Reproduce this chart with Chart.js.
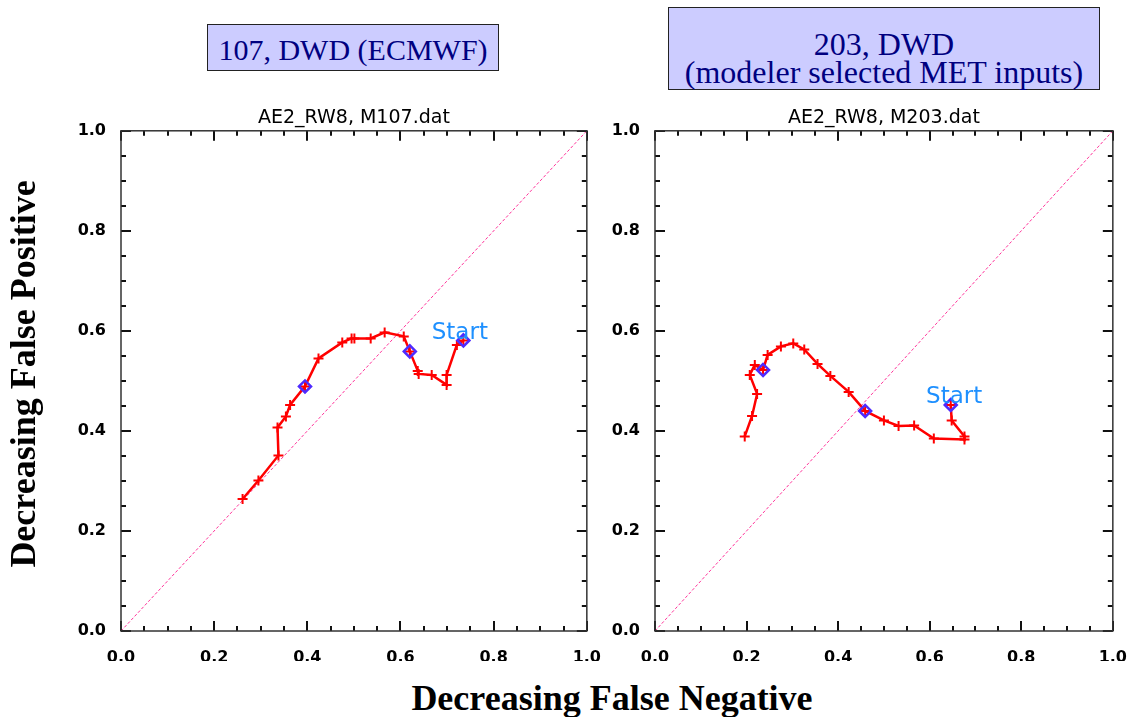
<!DOCTYPE html>
<html>
<head>
<meta charset="utf-8">
<script src="https://cdn.jsdelivr.net/npm/chart.js@4.4.0/dist/chart.umd.min.js"></script>
<style>
body { margin: 0; background: #fff; }
#page { position: relative; width: 1136px; height: 717px; overflow: hidden; background: #fff; }
canvas { position: absolute; }
.boite { position: absolute; box-sizing: border-box; border: 1px solid #222; background: #ccccff; color: #000080;
         font-family: "Liberation Serif", "Times New Roman", serif; text-align: center; white-space: nowrap; }
.titre-axe { position: absolute; font-family: "Liberation Serif", serif; font-weight: bold; font-size: 36px;
             line-height: 40px; height: 40px; width: 500px; text-align: center; color: #000; white-space: nowrap; }
</style>
</head>
<body>
<div id="page">
  <div class="boite" style="left:207px; top:24px; width:292px; height:47px; font-size:30px; line-height:45px; padding-top:2px;">107, DWD (ECMWF)</div>
  <div class="boite" style="left:668px; top:7px; width:432px; height:83px; font-size:32px; line-height:27.5px; padding-top:23px;">203, DWD<br>(modeler selected MET inputs)</div>

  <canvas id="graph-107" width="610" height="580" style="left:0px; top:95px; width:610px; height:580px;"></canvas>
  <canvas id="graph-203" width="542" height="580" style="left:594px; top:95px; width:542px; height:580px;"></canvas>

  <div class="titre-axe" style="left:-227px; top:354px; transform:rotate(-90deg);">Decreasing False Positive</div>
  <div class="titre-axe" style="left:362px; top:678px;">Decreasing False Negative</div>
</div>

<script>
// values, from "Start" to the end of each track
var m107FalseNeg = [0.735, 0.721, 0.699, 0.699, 0.667, 0.639, 0.637, 0.620, 0.607, 0.566, 0.536,
                    0.501, 0.495, 0.475, 0.424, 0.395, 0.363, 0.354, 0.336, 0.338, 0.295, 0.261];
var m107FalsePos = [0.581, 0.572, 0.512, 0.492, 0.512, 0.514, 0.520, 0.559, 0.589, 0.597, 0.585,
                    0.585, 0.585, 0.577, 0.545, 0.489, 0.452, 0.429, 0.407, 0.351, 0.301, 0.264];
var m107Marks = [0, 7, 15]; // points with a diamond

var m203FalseNeg = [0.646, 0.648, 0.676, 0.676, 0.609, 0.566, 0.532, 0.500, 0.459, 0.423, 0.383,
                    0.355, 0.326, 0.302, 0.275, 0.246, 0.236, 0.218, 0.207, 0.223, 0.212, 0.196];
var m203FalsePos = [0.452, 0.421, 0.389, 0.383, 0.385, 0.411, 0.410, 0.421, 0.440, 0.478, 0.510,
                    0.534, 0.563, 0.575, 0.569, 0.552, 0.522, 0.532, 0.512, 0.474, 0.430, 0.389];
var m203Marks = [0, 8, 16];

var diagonal = [0, 1];
var tickValues = [0, 0.2, 0.4, 0.6, 0.8, 1.0];
var tickLabels = ['0.0', '0.2', '0.4', '0.6', '0.8', '1.0'];

// box + inward ticks on the 4 sides (major every 0.2, minor every 0.05), and the "Start" label
var framePlugin = {
    id: 'frame',
    afterDraw: function (chart, args, opts) {
        var ctx = chart.ctx;
        var a = chart.chartArea;
        var sx = chart.scales.x;
        var sy = chart.scales.y;
        ctx.save();
        ctx.setLineDash([]);
        ctx.strokeStyle = '#111';
        ctx.lineWidth = 2;
        ctx.beginPath();
        for (var i = 0; i <= 20; i++) {
            var len = (i % 4 == 0) ? 10 : 5;
            var px = Math.round(sx.getPixelForValue(i / 20));
            var py = Math.round(sy.getPixelForValue(i / 20));
            ctx.moveTo(px, a.bottom); ctx.lineTo(px, a.bottom - len);
            ctx.moveTo(px, a.top); ctx.lineTo(px, a.top + len);
            ctx.moveTo(a.left, py); ctx.lineTo(a.left + len, py);
            ctx.moveTo(a.right, py); ctx.lineTo(a.right - len, py);
        }
        ctx.stroke();
        ctx.strokeStyle = '#333';
        ctx.lineWidth = 1.5;
        ctx.strokeRect(a.left, a.top, a.right - a.left, a.bottom - a.top);

        ctx.fillStyle = '#1e90ff';
        ctx.font = '23px "DejaVu Sans"';
        ctx.textAlign = 'left';
        ctx.textBaseline = 'middle';
        ctx.fillText('Start', sx.getPixelForValue(opts.startX), sy.getPixelForValue(opts.startY));
        ctx.restore();
    }
};

function toPoints(xs, ys) {
    var pts = [];
    for (var i = 0; i < xs.length; i++) {
        pts.push({ x: xs[i], y: ys[i] });
    }
    return pts;
}

function markPoints(xs, ys, marks) {
    var pts = [];
    for (var i = 0; i < marks.length; i++) {
        pts.push({ x: xs[marks[i]], y: ys[marks[i]] });
    }
    return pts;
}

function axisOptions(position, size, pad) {
    return {
        type: 'linear',
        position: position,
        min: 0,
        max: 1,
        grid: { display: false },
        border: { display: false },
        afterBuildTicks: function (axis) {
            axis.ticks = tickValues.map(function (v) { return { value: v }; });
        },
        afterFit: function (axis) {
            if (position == 'left') axis.width = size; else axis.height = size;
        },
        ticks: {
            padding: pad,
            color: '#000',
            maxRotation: 0,
            autoSkip: false,
            font: { family: 'DejaVu Sans', size: 16, weight: 'bold' },
            callback: function (value, index) { return tickLabels[index]; }
        }
    };
}

function createGraph(place, title, xs, ys, marks, padLeft, padRight, start) {
    var ctx = document.getElementById(place).getContext('2d');
    return new Chart(ctx, {
        type: 'scatter',
        data: {
            datasets: [
                {
                    // diamonds on top
                    data: markPoints(xs, ys, marks),
                    showLine: false,
                    pointStyle: 'rectRot',
                    pointRadius: 6,
                    pointBorderWidth: 2.5,
                    pointBorderColor: '#4f2bff',
                    pointBackgroundColor: 'rgba(0,0,0,0)'
                },
                {
                    data: toPoints(xs, ys),
                    showLine: true,
                    borderColor: '#ff0000',
                    borderWidth: 2.5,
                    pointStyle: 'cross',
                    pointRadius: 5,
                    pointBorderWidth: 2,
                    pointBorderColor: '#ff0000'
                },
                {
                    data: toPoints(diagonal, diagonal),
                    showLine: true,
                    borderColor: '#ff3399',
                    borderWidth: 1,
                    borderDash: [3, 2],
                    pointRadius: 0
                }
            ]
        },
        options: {
            responsive: false,
            animation: false,
            layout: { padding: { left: padLeft, right: padRight, top: 12, bottom: 14 } },
            scales: {
                x: axisOptions('bottom', 30, 9),
                y: axisOptions('left', 60, 7)
            },
            plugins: {
                legend: { display: false },
                tooltip: { enabled: false },
                title: {
                    display: true,
                    text: title,
                    fullSize: false,
                    color: '#000',
                    font: { family: 'DejaVu Sans', size: 19, weight: 'normal', lineHeight: 1.2 },
                    padding: { top: 0, bottom: 1 }
                },
                frame: start
            }
        },
        plugins: [framePlugin]
    });
}

var chart107 = createGraph('graph-107', 'AE2_RW8, M107.dat', m107FalseNeg, m107FalsePos, m107Marks, 61, 21,
    { startX: 0.667, startY: 0.596 });
var chart203 = createGraph('graph-203', 'AE2_RW8, M203.dat', m203FalseNeg, m203FalsePos, m203Marks, 1, 14,
    { startX: 0.592, startY: 0.468 });
</script>
</body>
</html>
